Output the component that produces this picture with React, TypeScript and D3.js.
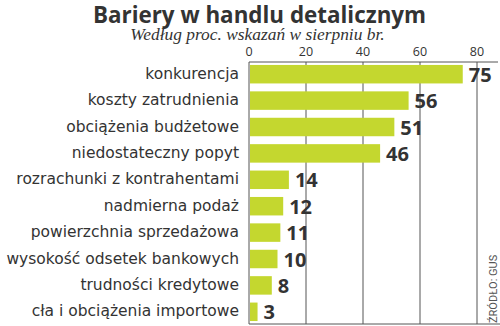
import React from "react";
import * as d3 from "d3";

const categories = [
  "konkurencja",
  "koszty zatrudnienia",
  "obciążenia budżetowe",
  "niedostateczny popyt",
  "rozrachunki z kontrahentami",
  "nadmierna podaż",
  "powierzchnia sprzedażowa",
  "wysokość odsetek bankowych",
  "trudności kredytowe",
  "cła i obciążenia importowe",
];
const values = [75, 56, 51, 46, 14, 12, 11, 10, 8, 3];
const ticks = [0, 20, 40, 60, 80];

const W = 500;
const H = 326;

export default function App() {
  const x = d3.scaleLinear().domain([0, 80]).range([249, 477]);
  const y = d3
    .scaleBand<string>()
    .domain(categories)
    .range([61, 325])
    .paddingInner(0.3)
    .paddingOuter(0.15);
  const axisTop = 62;
  const axisBottom = 324;
  const dark = "#333333";
  return (
    <svg
      width={W}
      height={H}
      style={{ position: "absolute", left: 0, top: 0, background: "#fff" }}
    >
      <text
        x={259.5}
        y={22.5}
        textAnchor="middle"
        fontFamily="Open Sans"
        fontWeight={700}
        fontSize={22.4}
        fill={dark}
      >
        Bariery w handlu detalicznym
      </text>
      <text
        x={257.5}
        y={40}
        textAnchor="middle"
        fontFamily="Liberation Serif"
        fontStyle="italic"
        fontSize={17.4}
        fill={dark}
      >
        Według proc. wskazań w sierpniu br.
      </text>
      {ticks.map((t) => (
        <g key={t}>
          <text
            x={x(t)}
            y={56}
            textAnchor="middle"
            fontFamily="Open Sans"
            fontSize={12.5}
            fill={dark}
          >
            {t}
          </text>
          <line
            x1={x(t)}
            x2={x(t)}
            y1={axisTop}
            y2={axisBottom}
            stroke="#555"
            strokeWidth={1}
          />
        </g>
      ))}
      <line x1={249} x2={498} y1={axisTop} y2={axisTop} stroke="#555" strokeWidth={1} />
      <line x1={249} x2={500} y1={axisBottom} y2={axisBottom} stroke="#555" strokeWidth={1} />
      {categories.map((c, i) => {
        const yy = y(c)!;
        const bw = y.bandwidth();
        return (
          <g key={c}>
            <rect
              x={x(0) + 1}
              y={yy}
              width={x(values[i]) - x(0) - 1}
              height={bw}
              fill="#c4d72f"
            />
            <text
              x={239}
              y={yy + bw / 2 + 4.5}
              textAnchor="end"
              fontFamily="DejaVu Sans"
              fontSize={15.5}
              fill={dark}
            >
              {c}
            </text>
            <text
              x={x(values[i]) + 6}
              y={yy + bw / 2 + 7.5}
              fontFamily="Open Sans"
              fontWeight={700}
              fontSize={20}
              fill={dark}
            >
              {values[i]}
            </text>
          </g>
        );
      })}
      <text
        transform={`translate(497,323) rotate(-90)`}
        fontFamily="Roboto"
        fontSize={11}
        fill="#555"
      >
        ŹRÓDŁO: GUS
      </text>
    </svg>
  );
}
